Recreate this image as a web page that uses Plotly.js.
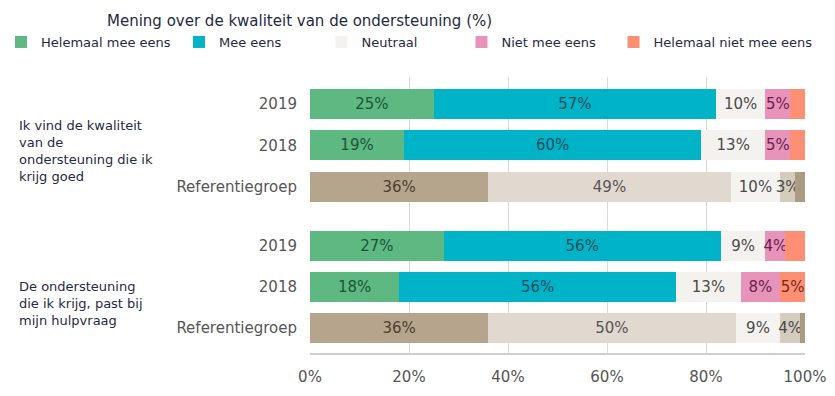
<!DOCTYPE html>
<html>
<head>
<meta charset="utf-8">
<script src="https://cdn.plot.ly/plotly-3.0.1.min.js"></script>
<style>html,body{margin:0;padding:0;background:#fff;}#chart{width:835px;height:396px;}</style>
</head>
<body>
<div id="chart"></div>
<script>
// ---- data ----
const chartTitle = 'Mening over de kwaliteit van de ondersteuning (%)';
const groupLabels = ['Ik vind de kwaliteit<br>van de<br>ondersteuning die ik<br>krijg goed',
                     'De ondersteuning<br>die ik krijg, past bij<br>mijn hulpvraag'];
const rowLabels = ['2019', '2018', 'Referentiegroep'];
const seriesNames = ['Helemaal mee eens', 'Mee eens', 'Neutraal', 'Niet mee eens', 'Helemaal niet mee eens'];
// rows: group1 2019, 2018, Ref, group2 2019, 2018, Ref
const helemaalMeeEens    = [25, 19, 36, 27, 18, 36];
const meeEens            = [57, 60, 49, 56, 56, 50];
const neutraal           = [10, 13, 10,  9, 13,  9];
const nietMeeEens        = [ 5,  5,  3,  4,  8,  4];
const helemaalNietMeeEens= [ 3,  3,  2,  4,  5,  1];
// which segments carry a printed label
const showLabel = [
  [true, true, true, true, true, true],
  [true, true, true, true, true, true],
  [true, true, true, true, true, true],
  [true, true, true, true, true, true],
  [false, false, false, false, true, false]
];
const xTickVals = [0, 20, 40, 60, 80, 100];

// ---- styles ----
const colors    = ['#5db882', '#00b3c6', '#f4f2ee', '#e894ba', '#fd8f74'];
const refColors = ['#b6a58d', '#e1d9cf', '#f5f3ef', '#d6ccbe', '#ab9b83'];
const txtColors = ['#1c5534', '#0b4f60', '#4a4a4a', '#6b1f4f', '#7a2a1c'];
const refTxt    = ['#4d4030', '#555555', '#4a4a4a', '#4a4a4a', '#4a4a4a'];
const FONT = 'DejaVu Sans, Verdana, sans-serif';
const NAVY = '#1f2a44';
const groupGap = 0.43;

const values = [helemaalMeeEens, meeEens, neutraal, nietMeeEens, helemaalNietMeeEens];
const nRows = rowLabels.length;
const yPos = [], yText = [], isRef = [];
groupLabels.forEach((g, gi) => {
  rowLabels.forEach((r, ri) => {
    yPos.push(gi * (nRows + groupGap) + ri);
    yText.push(r);
    isRef.push(r === 'Referentiegroep');
  });
});

const legendX = [1, 179, 321.5, 461.5, 613.5];
const traces = seriesNames.map((name, si) => ({
  type: 'bar',
  orientation: 'h',
  name: name,
  legend: si === 0 ? 'legend' : 'legend' + (si + 1),
  x: values[si],
  y: yPos,
  width: 0.73,
  marker: {
    color: yPos.map((_, k) => isRef[k] ? refColors[si] : colors[si]),
    line: {width: 0}
  },
  text: values[si].map((v, k) => showLabel[si][k] ? v + '%' : ''),
  textposition: 'inside',
  insidetextanchor: 'middle',
  constraintext: 'none',
  textangle: 0,
  textfont: {family: FONT, size: 15, color: yPos.map((_, k) => isRef[k] ? refTxt[si] : txtColors[si])},
  hoverinfo: 'skip'
}));

const layout = {
  width: 835, height: 396,
  margin: {l: 310, r: 30, t: 77, b: 43, pad: 0},
  paper_bgcolor: '#ffffff', plot_bgcolor: '#ffffff',
  barmode: 'stack',
  font: {family: FONT, color: NAVY},
  title: {text: chartTitle, font: {family: FONT, size: 15, color: NAVY},
          xref: 'container', yref: 'container', x: 107 / 835, xanchor: 'left', y: 1 - 21 / 396, yanchor: 'middle'},
  xaxis: {range: [0, 100], tickvals: xTickVals, ticktext: xTickVals.map(v => v + '%'),
          showgrid: true, gridcolor: '#d9d9d9', gridwidth: 1, zeroline: false,
          showline: true, linecolor: '#d0d0d0', linewidth: 1.5, ticks: '',
          ticklabelstandoff: 9,
          tickfont: {family: FONT, size: 15, color: '#555555'}, fixedrange: true},
  yaxis: {range: [6.03, -0.654], tickvals: yPos, ticktext: yText,
          showgrid: false, zeroline: false, showline: false, ticks: '',
          ticklabelstandoff: 12,
          tickfont: {family: FONT, size: 15, color: '#555555'}, fixedrange: true},
  annotations: [
    {text: groupLabels[0], xref: 'paper', yref: 'y', x: (17 - 310) / 495, y: 1.15, xanchor: 'left', yanchor: 'middle',
     align: 'left', showarrow: false, font: {family: FONT, size: 13, color: NAVY}},
    {text: groupLabels[1], xref: 'paper', yref: 'y', x: (17 - 310) / 495, y: 4.83, xanchor: 'left', yanchor: 'middle',
     align: 'left', showarrow: false, font: {family: FONT, size: 13, color: NAVY}}
  ],
  showlegend: true
};
legendX.forEach((lx, i) => {
  const key = i === 0 ? 'legend' : 'legend' + (i + 1);
  layout[key] = {xref: 'container', yref: 'container', x: lx / 835, y: 1 - 42 / 396,
                 xanchor: 'left', yanchor: 'middle', orientation: 'h',
                 bgcolor: 'rgba(0,0,0,0)', borderwidth: 0,
                 font: {family: FONT, size: 13, color: NAVY}};
});

Plotly.newPlot('chart', traces, layout, {displayModeBar: false, staticPlot: true});
</script>
</body>
</html>
